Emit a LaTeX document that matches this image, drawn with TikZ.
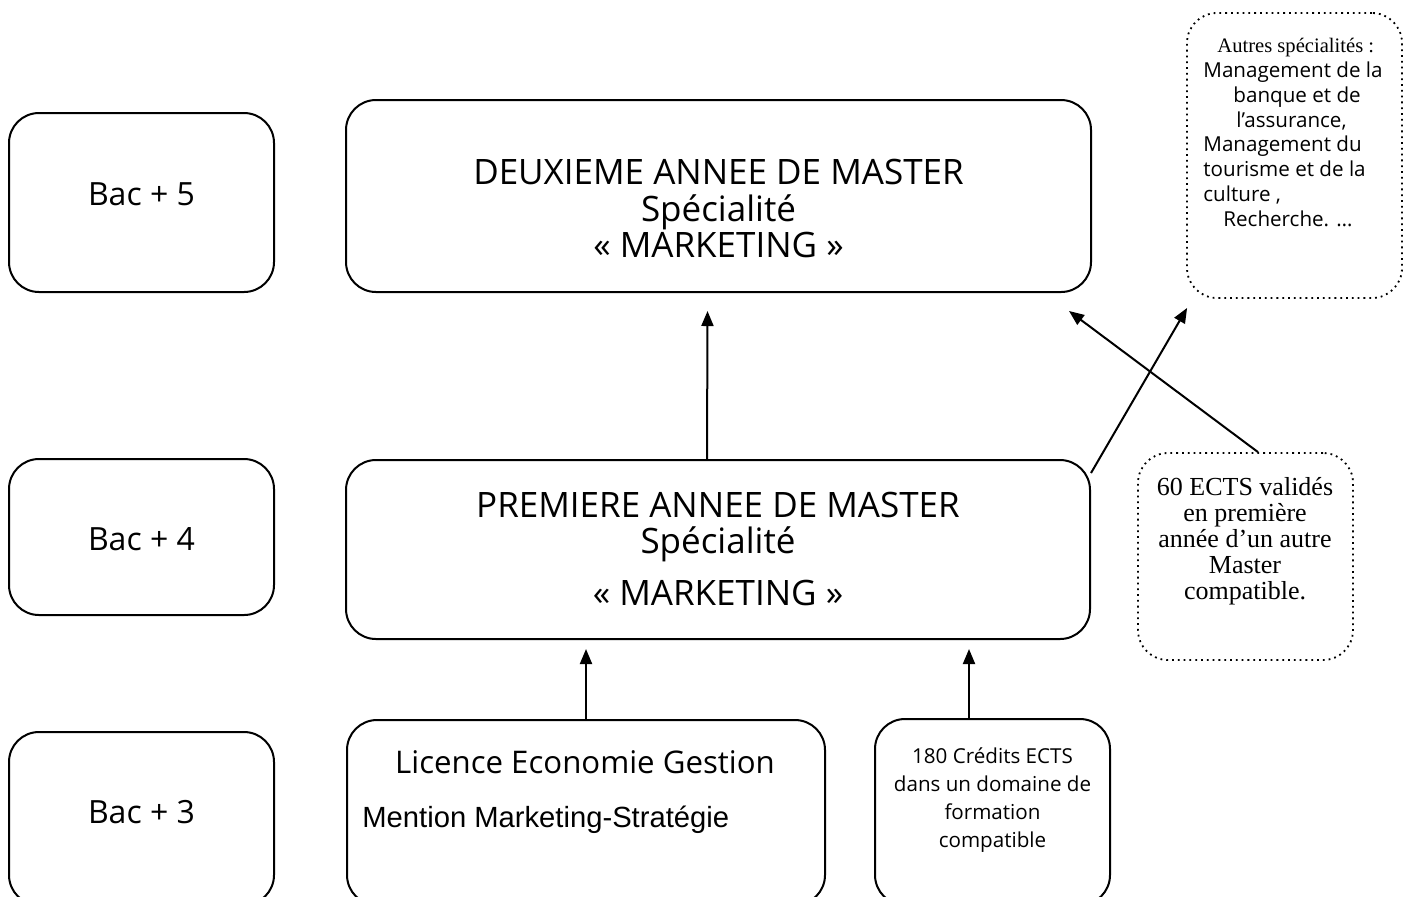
\documentclass[tikz,border=0pt]{standalone}
\usepackage{fontspec}
\setmainfont{Open Sans}
\newfontfamily\tnr{Liberation Serif}
\newfontfamily\arialf{Liberation Sans}
\usetikzlibrary{arrows.meta}
\begin{document}
\begin{tikzpicture}[x=0.5pt,y=-0.5pt,
  box/.style={draw, line width=1pt, rounded corners=15pt, inner sep=0pt},
  dbox/.style={draw, line width=0.9pt, dotted, rounded corners=15pt, inner sep=0pt},
  arr/.style={-{Triangle[length=7.5pt,width=6pt]}, line width=1pt},
  bactxt/.style={font=\fontsize{16}{19}\selectfont, anchor=base},
  maintxt/.style={font=\fontsize{17.5}{18.25}\selectfont, align=center},
  smalltxt/.style={font=\fontsize{10.3}{14}\selectfont, align=center}]
\useasboundingbox (0,0) rectangle (1406,896);

% level boxes
\node[box, minimum width=132.5pt, minimum height=89.5pt] (b5) at (141.5,202.5) {};
\node[box, minimum width=132.5pt, minimum height=78pt] (b4) at (141.5,537) {};
\node[box, minimum width=132.5pt, minimum height=86.5pt] (b3) at (141.5,818.5) {};
\node[bactxt] (b5t) at (141.5,205) {Bac + 5};
\node[bactxt] (b4t) at (141.5,550) {Bac + 4};
\node[bactxt] (b3t) at (141.5,823) {Bac + 3};

% master boxes
\node[box, minimum width=372.5pt, minimum height=96pt] (m2) at (718.5,196) {};
\node[maintxt] (m2t) at (718.5,208.5) {DEUXIEME ANNEE DE MASTER\\Spécialité\\« MARKETING »};
\node[box, minimum width=372pt, minimum height=89.5pt] (m1) at (718,549.5) {};
\node[maintxt] (m1t) at (718,548.5) {PREMIERE ANNEE DE MASTER\\Spécialité\\[7.5pt]« MARKETING »};

% bottom boxes
\node[box, minimum width=239pt, minimum height=92.5pt] (lic) at (586,812.5) {};
\node[font=\fontsize{15.6}{18}\selectfont, anchor=base] (lict1) at (585,773) {Licence Economie Gestion};
\node[font=\arialf\fontsize{14.6}{17}\selectfont, anchor=base west, inner sep=0pt] (lict2) at (362,827) {Mention Marketing-Stratégie};
\node[box, minimum width=117.5pt, minimum height=93pt] (c180) at (992.5,812) {};
\node[smalltxt] (c180t) at (992.5,800) {180 Crédits ECTS\\dans un domaine de\\formation\\compatible};

% dotted boxes
\node[dbox, minimum width=107.5pt, minimum height=142.5pt] (aut) at (1294.5,155.5) {};
\node[font=\fontsize{10.3}{12.4}\selectfont, align=left, anchor=north west, inner sep=0pt] (autt) at (1203,38)
  {\hspace*{7pt}{\tnr Autres spécialités :}\\Management de la\\\hspace*{15pt}banque et de\\\hspace*{16.5pt}l’assurance,\\Management du\\tourisme et de la\\culture ,\\\hspace*{10pt}Recherche. …};
\node[dbox, minimum width=107.5pt, minimum height=103.5pt] (ects) at (1245.5,556.5) {};
\node[font=\tnr\fontsize{13}{13}\selectfont, align=center] (ectst) at (1245,541)
  {60 ECTS validés\\en première\\année d’un autre\\Master\\compatible.};

% arrows
\draw[arr] ([xshift=-5.5pt]m1.north) -- ([xshift=-5.5pt,yshift=-9pt]m2.south);
\draw[arr, shorten >=4.5pt] (lic.north) -- (lic.north |- m1.south);
\draw[arr, shorten >=4.5pt] ([xshift=-11.75pt]c180.north) -- ([xshift=-11.75pt]c180.north |- m1.south);
\draw[arr] ([yshift=-7pt]m1.north east) -- ([xshift=0.5pt,yshift=-4.5pt]aut.south west);
\draw[arr] ([xshift=6.25pt]ects.north) -- ([xshift=-11.5pt,yshift=-9pt]m2.south east);
\end{tikzpicture}
\end{document}
